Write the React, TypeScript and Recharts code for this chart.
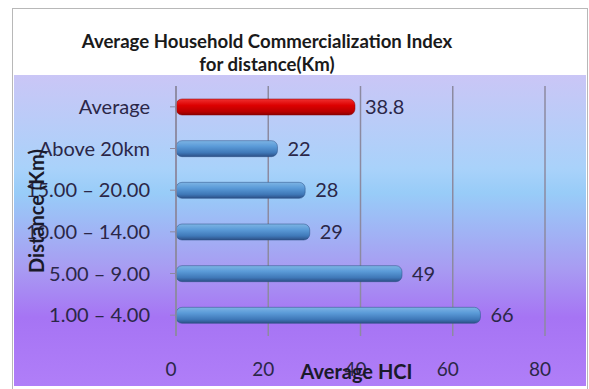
import React from 'react';
import { BarChart, Bar, XAxis, YAxis, CartesianGrid, LabelList, Label, Cell } from 'recharts';

const categories = ['Average', 'Above 20km', '15.00 – 20.00', '10.00 – 14.00', '5.00 – 9.00', '1.00 – 4.00'];
const hciValues = [38.8, 22, 28, 29, 49, 66];
const xTicks = [0, 20, 40, 60, 80];

const data = categories.map((name, i) => ({ name, hci: hciValues[i] }));

const FONT = 'Lato, "Open Sans", sans-serif';
const TEXT = '#2b2748';

const App: React.FC = () => {
  return (
    <div style={{ position: 'absolute', left: 0, top: 0, width: 589, height: 389, background: '#fff', fontFamily: FONT, overflow: 'hidden' }}>
      {/* outer chart frame */}
      <div style={{ position: 'absolute', left: 12, top: 8, width: 576, height: 384, border: '1px solid #b8b8b8', boxSizing: 'border-box' }} />
      {/* plot backdrop */}
      <div
        style={{
          position: 'absolute', left: 14, top: 75, width: 572, height: 311,
          background: 'linear-gradient(to bottom, #cac6f6 0%, #a9d2fa 30%, #98ccf8 38%, #a89cf2 62%, #a674f4 78%, #b07ef8 100%)',
        }}
      />
      <div style={{ position: 'absolute', left: 0, width: 534, top: 30, textAlign: 'center', fontWeight: 700, fontSize: 18.6, color: '#1a1a1a', lineHeight: '23px' }}>
        Average Household Commercialization Index
        <br />
        for distance(Km)
      </div>
      <div style={{ position: 'absolute', left: 0, top: 0 }}>
        <BarChart
          width={589}
          height={389}
          data={data}
          layout="vertical"
          margin={{ top: 86, right: 44, bottom: 23, left: 50 }}
          barSize={16}
        >
          <defs>
            <linearGradient id="blueTube" x1="0" y1="0" x2="0" y2="1">
              <stop offset="0%" stopColor="#7db4e4" />
              <stop offset="35%" stopColor="#5b9bd8" />
              <stop offset="75%" stopColor="#3f78b8" />
              <stop offset="100%" stopColor="#2c4f86" />
            </linearGradient>
            <linearGradient id="redTube" x1="0" y1="0" x2="0" y2="1">
              <stop offset="0%" stopColor="#f03030" />
              <stop offset="40%" stopColor="#dd0000" />
              <stop offset="80%" stopColor="#b80000" />
              <stop offset="100%" stopColor="#8a0000" />
            </linearGradient>
          </defs>
          <CartesianGrid horizontal={false} stroke="#8c8aa0" strokeWidth={1.5} />
          <XAxis
            type="number"
            domain={[0, 80]}
            ticks={xTicks}
            axisLine={false}
            tickLine={false}
            tickMargin={21}
            height={30}
            tick={{ fill: TEXT, fontSize: 19, fontFamily: FONT, dx: -5 }}
          >
            <Label value="Average HCI" position="insideBottom" offset={-13} fill="#1a1a2a" fontSize={20} fontWeight={700} fontFamily={FONT} dx={-4} />
          </XAxis>
          <YAxis
            type="category"
            dataKey="name"
            width={126}
            axisLine={{ stroke: '#8c8aa0', strokeWidth: 1.5 }}
            tickLine={{ stroke: '#8c8aa0' }}
            tickMargin={20}
            tick={{ fill: TEXT, fontSize: 20, fontFamily: FONT }}
          >
            <Label value="Distance (Km)" angle={-90} position="insideLeft" offset={-13} fill="#1a1a2a" fontSize={20} fontWeight={700} fontFamily={FONT} style={{ textAnchor: 'middle' }} />
          </YAxis>
          <Bar dataKey="hci" radius={6} isAnimationActive={false}>
            {data.map((d, i) => (
              <Cell key={d.name} fill={i === 0 ? 'url(#redTube)' : 'url(#blueTube)'} stroke={i === 0 ? '#8a0000' : '#2c4f86'} strokeOpacity={0.5} />
            ))}
            <LabelList dataKey="hci" position="right" offset={10} fill={TEXT} fontSize={20} fontFamily={FONT} />
          </Bar>
        </BarChart>
      </div>
    </div>
  );
};

export default App;
